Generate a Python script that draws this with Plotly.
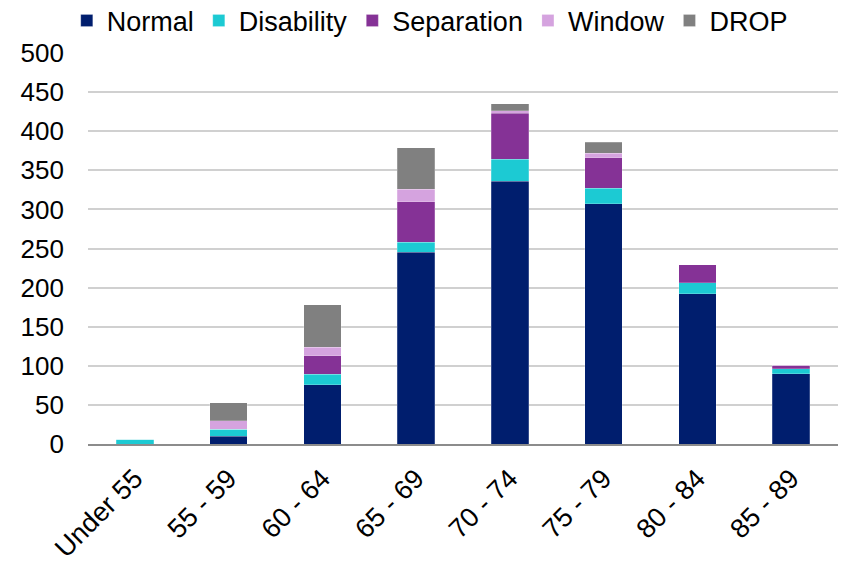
import plotly.graph_objects as go

# Age bands on the category axis
age_bands = ["Under 55", "55 - 59", "60 - 64", "65 - 69", "70 - 74", "75 - 79", "80 - 84", "85 - 89"]

# Counts per retirement type, stacked in this order
normal = [0, 10, 76, 245, 336, 307, 192, 90]
disability = [6, 9, 13, 13, 28, 20, 14, 6]
separation = [0, 0, 24, 52, 59, 39, 23, 5]
window = [0, 11, 11, 16, 3, 6, 0, 0]
drop = [0, 23, 54, 53, 9, 14, 0, 0]

series = [
    ("Normal", normal, "#001E6E"),
    ("Disability", disability, "#1CCAD3"),
    ("Separation", separation, "#853296"),
    ("Window", window, "#D5A3DF"),
    ("DROP", drop, "#808080"),
]

FONT = "Liberation Sans, Arial, sans-serif"

fig = go.Figure()
for name, values, color in series:
    fig.add_trace(go.Bar(
        name=name,
        x=age_bands,
        y=values,
        marker=dict(color=color, line=dict(color="rgba(255,255,255,0.35)", width=0.6)),
    ))

fig.update_layout(
    barmode="stack",
    bargap=0.6,
    width=846,
    height=568,
    margin=dict(l=88, r=8, t=53, b=124, autoexpand=False),
    paper_bgcolor="white",
    plot_bgcolor="white",
    font=dict(family=FONT, size=26, color="#000000"),
    legend=dict(
        orientation="h",
        xref="container",
        yref="paper",
        x=0.508,
        xanchor="center",
        y=1.082,
        yanchor="middle",
        font=dict(size=27),
        itemwidth=30,
        tracegroupgap=0,
        traceorder="normal",
        bgcolor="rgba(0,0,0,0)",
    ),
    showlegend=True,
)

fig.update_yaxes(
    range=[0, 500],
    dtick=50,
    showgrid=True,
    gridcolor="#D0D0D0",
    gridwidth=1.5,
    zeroline=False,
    showline=False,
    tickfont=dict(size=26),
    ticklabelstandoff=23,
)

fig.update_xaxes(
    tickangle=-45,
    showline=True,
    linecolor="#8C8C8C",
    linewidth=2,
    showgrid=False,
    tickfont=dict(size=27),
    ticklabelstandoff=6,
)

fig.write_html("out.html")
